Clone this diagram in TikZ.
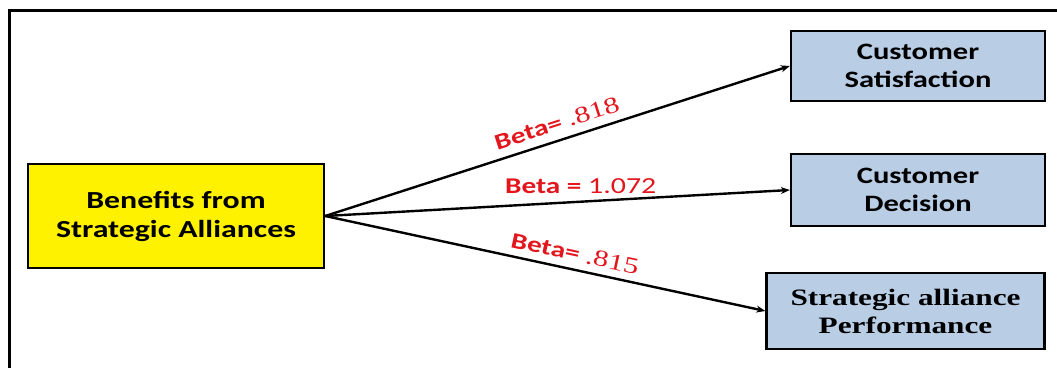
\documentclass[tikz,border=0pt]{standalone}
\usepackage{fontspec}
\usetikzlibrary{arrows.meta}
\newfontfamily\calfont[FakeStretch=1.3]{Carlito}
\newfontfamily\serffont[FakeStretch=1.33]{Liberation Serif}
\definecolor{boxblue}{HTML}{B9CDE5}
\definecolor{labred}{HTML}{E3161E}
\begin{document}
\begin{tikzpicture}[x=1pt,y=-1pt,
  box/.style={draw=black,line width=2.4pt,align=center,inner sep=0pt},
  conn/.style={line width=2.4pt,-{Stealth[length=9pt,width=7pt]}},
  lab/.style={text=labred,inner sep=1pt}]
\useasboundingbox (0,0) rectangle (1057,367);
\coordinate (fb) at (9,368);
\coordinate (ftl) at (9,10);
\coordinate (fr) at (1058,10);
\draw[line width=3pt] (fb) -- (ftl) -- (fr);
\node[box,fill=yellow,minimum width=296pt,minimum height=104pt,
  font={\calfont\bfseries\fontsize{24.5}{29}\selectfont}] (src) at (176,216)
  {Benefits from\\Strategic Alliances};
\node[box,fill=boxblue,minimum width=254pt,minimum height=70pt,
  font={\calfont\bfseries\fontsize{23.5}{28}\selectfont}] (sat) at (918,66)
  {Customer\\Satisfaction};
\node[box,fill=boxblue,minimum width=254pt,minimum height=72pt,
  font={\calfont\bfseries\fontsize{23.5}{28}\selectfont}] (dec) at (918,190)
  {Customer\\Decision};
\node[box,fill=boxblue,minimum width=278pt,minimum height=76pt,
  font={\serffont\bfseries\fontsize{23.5}{28}\selectfont}] (perf) at (905.5,311)
  {Strategic alliance\\Performance};
\draw[conn] (src.east) -- node[lab,sloped,above=7pt,pos=0.51]
  {{\calfont\bfseries\fontsize{22.5}{26}\selectfont Beta= }{\serffont\fontsize{23}{26}\selectfont .818}} (sat.west);
\draw[conn] (src.east) -- node[lab,above=6pt,pos=0.55]
  {{\calfont\bfseries\fontsize{22.5}{26}\selectfont Beta = }{\calfont\fontsize{23}{26}\selectfont 1.072}} (dec.west);
\draw[conn] (src.east) -- node[lab,sloped,above=6pt,pos=0.56]
  {{\calfont\bfseries\fontsize{22.5}{26}\selectfont Beta= }{\serffont\fontsize{23}{26}\selectfont .815}} (perf.west);
\end{tikzpicture}
\end{document}
